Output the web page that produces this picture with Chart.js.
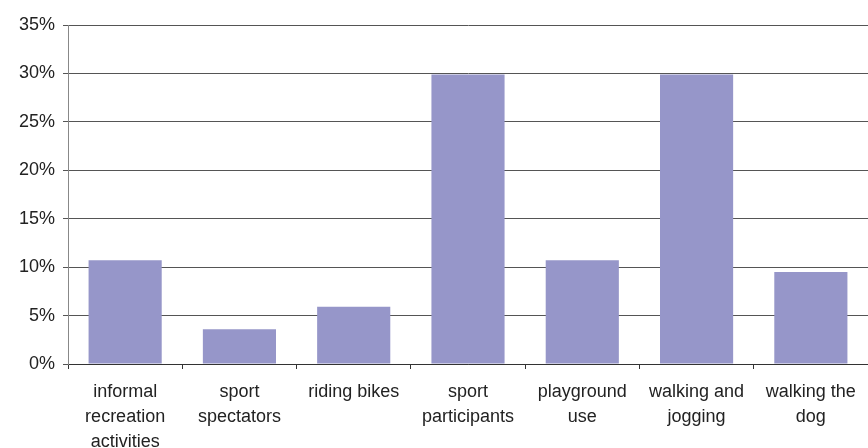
<!DOCTYPE html>
<html>
<head>
<meta charset="utf-8">
<script src="https://cdn.jsdelivr.net/npm/chart.js@4/dist/chart.umd.min.js"></script>
<style>
  html, body { margin: 0; padding: 0; background: #fff; }
  #wrap { width: 868px; height: 448px; }
</style>
</head>
<body>
<div id="wrap"><canvas id="data-chart"></canvas></div>
<script>
// Categories and values
const categories = [
    ['informal', 'recreation', 'activities'],
    ['sport', 'spectators'],
    ['riding bikes'],
    ['sport', 'participants'],
    ['playground', 'use'],
    ['walking and', 'jogging'],
    ['walking the', 'dog']
];
const shares = [10.7, 3.6, 5.9, 29.9, 10.7, 29.9, 9.5];
const yTicks = [0, 5, 10, 15, 20, 25, 30, 35];

const ctx = document.getElementById('data-chart').getContext('2d');
const chart = new Chart(ctx, {
    type: 'bar',
    data: {
        labels: categories,
        datasets: [{
            data: shares,
            backgroundColor: '#9696c9',
            borderWidth: 0,
            categoryPercentage: 1,
            barPercentage: 0.64
        }]
    },
    options: {
        responsive: true,
        maintainAspectRatio: false,
        animation: false,
        layout: { padding: { top: 25, right: 0, left: 0, bottom: 0 } },
        plugins: { legend: { display: false }, tooltip: { enabled: false } },
        scales: {
            x: {
                grid: { drawOnChartArea: false, drawTicks: true, tickLength: 5, color: '#333' },
                border: { color: '#333', width: 1 },
                ticks: {
                    color: '#222',
                    padding: 10,
                    maxRotation: 0,
                    autoSkip: false,
                    font: { family: 'Liberation Sans, Arial, sans-serif', size: 18, lineHeight: 1.4 }
                },
                afterFit: scale => { scale.height = 84; }
            },
            y: {
                min: 0,
                max: 35,
                afterBuildTicks: scale => { scale.ticks = yTicks.map(v => ({ value: v })); },
                grid: { color: '#555', tickLength: 5, lineWidth: 1 },
                border: { color: '#888', width: 1 },
                ticks: {
                    color: '#222',
                    padding: 8,
                    callback: v => v + '%',
                    font: { family: 'Liberation Sans, Arial, sans-serif', size: 18 }
                },
                afterFit: scale => { scale.width = 68; }
            }
        }
    }
});
</script>
</body>
</html>
